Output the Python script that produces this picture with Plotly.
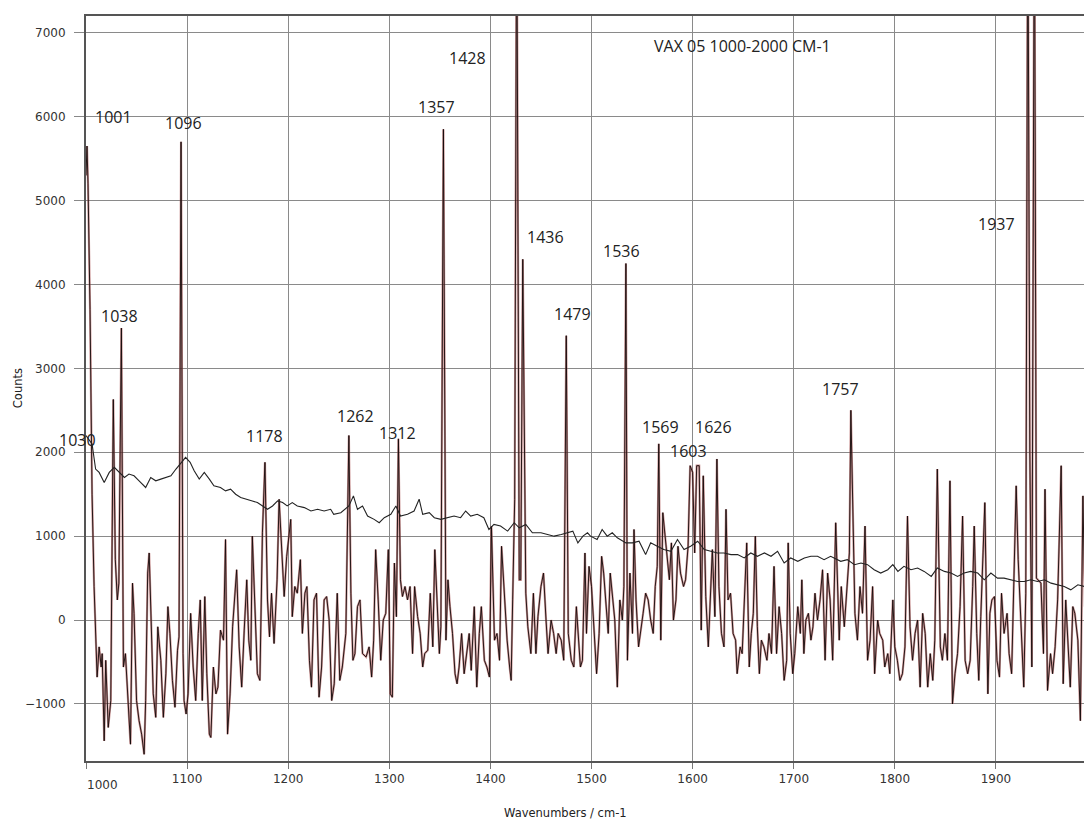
import plotly.graph_objects as go

# ---- data ----
spectrum = [
    (1000, 5300), (1001, 5650), (1002, 5200), (1004, 3700), (1006, 1500), (1008, 400),
    (1011, -680), (1013, -320), (1015, -560), (1016, -400), (1018, -1440), (1019.5, -480),
    (1022, -1280), (1024.5, -960), (1027, 2630), (1029, 720), (1031, 240), (1032.5, 440),
    (1035, 3480), (1037, -560), (1039, -400), (1041.5, -960), (1044, -1480), (1046, 440),
    (1047.5, 80), (1050, -960), (1052.5, -1200), (1055, -1360), (1057.5, -1600), (1059, -960),
    (1061, 560), (1062.5, 800), (1064, 240), (1066.5, -880), (1069, -1160), (1071, -80),
    (1074, -480), (1076.5, -1160), (1079, -640), (1081, 160), (1083, -160), (1085.5, -720),
    (1088, -1040), (1090.5, -360), (1092, -200), (1094, 5700), (1096, -400), (1097, -960),
    (1099, -1120), (1101, -880), (1103.5, 80), (1106, -560), (1108.5, -960), (1111, -160),
    (1113, 240), (1115, -960), (1117.5, 280), (1119.5, -640), (1122, -1360), (1123.5, -1400),
    (1126, -560), (1128.5, -880), (1130.5, -800), (1133, -120), (1136, -240), (1138, 960),
    (1140, -1360), (1142.5, -880), (1145, -80), (1147, 240), (1149, 600), (1151.5, -320),
    (1154, -800), (1156.5, -120), (1159, 480), (1161, -240), (1163, -480), (1164.5, 1000),
    (1167, 80), (1169.5, -640), (1172, -720), (1174.5, 1040), (1177, 1880), (1179.5, 240),
    (1181.5, -200), (1183.5, 320), (1186, -280), (1189, 480), (1191, 1440), (1193.5, 880),
    (1196, 280), (1198.5, 760), (1202.5, 1200), (1204, 40), (1206.5, 400), (1209, 320),
    (1212, 720), (1214, -160), (1216.5, 320), (1218.5, 400), (1221, -480), (1223, -800),
    (1225.5, 240), (1228, 320), (1230.5, -920), (1233, -560), (1235.5, 240), (1238, 280),
    (1240.5, 0), (1243, -960), (1245.5, -760), (1248.5, 320), (1251, -720), (1253.5, -560),
    (1257, -160), (1260, 2200), (1262, 320), (1264, -480), (1266, -400), (1268.5, 160),
    (1271, 240), (1273.5, -400), (1277, -440), (1280, -320), (1282.5, -680), (1284.5, -240),
    (1286.5, 840), (1289, 240), (1291.5, -480), (1294, 0), (1296.5, 80), (1299, 840),
    (1301, -880), (1303, -920), (1305, 680), (1307, 40), (1309, 2160), (1311, 480),
    (1313, 280), (1315.5, 400), (1318, 240), (1320.5, 400), (1323, -400), (1325, 400),
    (1328, 40), (1330.5, -160), (1333, -560), (1335, -400), (1338, -360), (1340.5, 320),
    (1343, -320), (1345, 840), (1347, 320), (1349.5, -400), (1351, -80), (1353.5, 5850),
    (1356, -240), (1358, 480), (1360, 160), (1362.5, -160), (1365, -640), (1367, -760),
    (1369, -560), (1371.5, -160), (1374, -640), (1376.5, -400), (1379, -160), (1381, -600),
    (1384, 160), (1386.5, -800), (1389, -160), (1391, 160), (1394, -480), (1396.5, -560),
    (1399, -680), (1401, 1120), (1404, -240), (1406.5, -160), (1409, -480), (1411, 880),
    (1414, 240), (1416.5, -240), (1419, -560), (1420.5, -720), (1422, 240), (1424, 1440),
    (1426, 8800), (1428.5, 480), (1430, 480), (1432, 4300), (1435, 320), (1437, -80),
    (1440, -400), (1442.5, 320), (1445, -400), (1447, 40), (1450, 400), (1452.5, 560),
    (1455, 0), (1457, -400), (1460, 0), (1462.5, -160), (1465, -400), (1467, -160),
    (1470, -240), (1472.5, -480), (1475, 3390), (1477, -160), (1480, -480), (1482.5, -560),
    (1485, 160), (1486.5, -160), (1489, -560), (1491, -480), (1493.5, 800), (1495, -160),
    (1497.5, 640), (1500, 400), (1502.5, -160), (1505, -640), (1507.5, -160), (1510, 760),
    (1512, 560), (1514, 240), (1516.5, -160), (1518.5, 560), (1520.5, 320), (1523, 0),
    (1525.5, -800), (1528, 240), (1530.5, 0), (1532, 400), (1534, 4250), (1535.5, -480),
    (1538, 560), (1540.5, -160), (1542, 1080), (1544, 240), (1546.5, -320), (1548.5, -160),
    (1551, 80), (1553.5, 320), (1556, 240), (1558.5, 0), (1561, -160), (1563, 400),
    (1565, 640), (1566.5, 2100), (1568.5, -240), (1570.5, 1280), (1572.5, 1040), (1574.5, 800),
    (1577, 480), (1579, 920), (1581, 0), (1583.5, 240), (1585.5, 880), (1588, 560),
    (1591, 400), (1593, 480), (1595.5, 880), (1597.5, 1840), (1600, 1760), (1602, 800),
    (1604, 1840), (1606.5, 1840), (1608.5, -120), (1610.5, 1720), (1613, 280), (1615.5, -320),
    (1617.5, 240), (1619.5, 840), (1622, 40), (1624, 1920), (1626, 400), (1628.5, -160),
    (1631, -320), (1633, 1320), (1635, 240), (1637.5, 320), (1640, -160), (1642.5, -240),
    (1644, -640), (1647, -320), (1649, -400), (1651.5, 240), (1653.5, 920), (1656, -560),
    (1658, -160), (1660, 80), (1662, 1000), (1664, -80), (1666, -640), (1668, -240),
    (1670.5, -320), (1673.5, -480), (1675.5, -160), (1678, -400), (1680.5, 640), (1683, -400),
    (1685.5, 160), (1688, -160), (1690.5, -720), (1693, -480), (1694.5, 920), (1696.5, -160),
    (1699, -640), (1701, -400), (1704, 160), (1706.5, -160), (1708, 480), (1710, -400),
    (1712, 0), (1714.5, 80), (1717, -240), (1719, -80), (1721, 320), (1723.5, 0),
    (1726, 240), (1728.5, 600), (1731, -480), (1733.5, 560), (1736, 240), (1738.5, -480),
    (1741.5, 1160), (1745, -240), (1747, 400), (1750, -80), (1752.5, 400), (1755, 800),
    (1756.5, 2500), (1758, 1440), (1760.5, 80), (1763, -240), (1765.5, 400), (1768, 80),
    (1770.5, 1120), (1773, -480), (1775.5, -240), (1778, 400), (1780, -640), (1783, 0),
    (1785, -160), (1788, -240), (1790, -560), (1793, -400), (1795, -640), (1798, 240),
    (1800, -320), (1802.5, -480), (1805, -720), (1807.5, -640), (1810, -320), (1812.5, 1240),
    (1815, -80), (1817.5, -480), (1820, -160), (1822.5, 0), (1825, -800), (1827.5, 80),
    (1830, -160), (1832.5, -800), (1835, -400), (1837.5, -720), (1839.5, -240), (1842, 1800),
    (1845, -320), (1847, -480), (1849.5, -160), (1852, -480), (1854.5, 1660), (1857, -1000),
    (1859.5, -640), (1862, -400), (1864.5, 160), (1867, 1240), (1869.5, -480), (1872, -640),
    (1874.5, -480), (1877, 400), (1878.5, 1120), (1881, -160), (1883, -720), (1885, 40),
    (1887, 720), (1889, 1400), (1892, -880), (1894, 80), (1896, 240), (1898.5, 280),
    (1901, -480), (1903.5, -680), (1905.5, 320), (1908, -160), (1911, 80), (1913, -400),
    (1915.5, -640), (1918, 480), (1920, 1600), (1922, 720), (1925, -160), (1927.5, -800),
    (1929.5, 320), (1931.5, 9000), (1933.5, 2000), (1935.5, -560), (1938, 9000), (1940, 500),
    (1944.5, 440), (1947, -400), (1948.5, 1560), (1951, -840), (1954, -400), (1956, -640),
    (1958.5, -320), (1961, 240), (1964.5, 1840), (1966.5, -760), (1969, 240), (1971, -160),
    (1973.5, -800), (1976, 160), (1978, 80), (1981, -240), (1983.5, -1200), (1986, 1480),
    (1988, 160), (1990, 800), (1992.5, -320), (1995, 240),
]

baseline = [
    (1000, 2200), (1006, 2100), (1009.5, 1800), (1013, 1760), (1018, 1640), (1023, 1760),
    (1028, 1820), (1033, 1760), (1038, 1700), (1042.5, 1740), (1047.5, 1720), (1052.5, 1660),
    (1059, 1580), (1064, 1700), (1069, 1660), (1074, 1680), (1079, 1700), (1084, 1720),
    (1089, 1800), (1093.5, 1860), (1098.5, 1940), (1103, 1880), (1107, 1780), (1112, 1680),
    (1117, 1760), (1122, 1680), (1126.5, 1600), (1133, 1580), (1138, 1540), (1143, 1560),
    (1148, 1500), (1153, 1460), (1159.5, 1440), (1164.5, 1420), (1169.5, 1400), (1174.5, 1360),
    (1179.5, 1320), (1184.5, 1360), (1189.5, 1420), (1194.5, 1400), (1199, 1360), (1204, 1400),
    (1209, 1360), (1216, 1340), (1222.5, 1300), (1229, 1320), (1235.5, 1300), (1242, 1320),
    (1245, 1260), (1252, 1280), (1260, 1360), (1264.5, 1480), (1268.5, 1320), (1273.5, 1360),
    (1278.5, 1240), (1285, 1200), (1290, 1160), (1295, 1220), (1301.5, 1260), (1306.5, 1360),
    (1311, 1240), (1318, 1260), (1324.5, 1300), (1329.5, 1440), (1333, 1260), (1339.5, 1280),
    (1344.5, 1220), (1351, 1200), (1357.5, 1220), (1364, 1240), (1370.5, 1220), (1375.5, 1300),
    (1380.5, 1240), (1387, 1260), (1393.5, 1220), (1398.5, 1080), (1403.5, 1140), (1410, 1120),
    (1417, 1060), (1423.5, 1160), (1428.5, 1100), (1435, 1140), (1441.5, 1040), (1450, 1040),
    (1456.5, 1020), (1463, 1000), (1470, 1020), (1476.5, 1040), (1481.5, 1060), (1486.5, 920),
    (1491.5, 1000), (1496, 1040), (1499, 1000), (1505.5, 960), (1510.5, 1080), (1515.5, 1000),
    (1520.5, 1040), (1525.5, 980), (1534, 920), (1540.5, 920), (1547, 940), (1553.5, 780),
    (1558.5, 920), (1565, 880), (1571.5, 840), (1578.5, 820), (1585, 960), (1591.5, 840),
    (1598, 880), (1605, 940), (1611.5, 840), (1618, 820), (1624.5, 800), (1631, 800),
    (1638, 780), (1644.5, 780), (1651, 740), (1657.5, 800), (1664, 760), (1671, 800),
    (1677.5, 760), (1684, 820), (1690.5, 680), (1697, 740), (1704, 700), (1710.5, 740),
    (1717, 760), (1723.5, 760), (1730, 720), (1736.5, 760), (1741, 730), (1746.5, 700),
    (1753, 720), (1760, 660), (1766.5, 680), (1773, 660), (1779.5, 600), (1786, 560),
    (1793, 600), (1798, 660), (1803, 580), (1809, 640), (1816, 600), (1822.5, 620),
    (1829, 580), (1836, 520), (1842, 620), (1849, 580), (1855.5, 560), (1862, 520),
    (1868.5, 560), (1875, 580), (1882, 560), (1888.5, 480), (1895, 560), (1901.5, 500),
    (1908, 500), (1915, 480), (1921.5, 460), (1928, 460), (1934.5, 480), (1941, 460),
    (1948, 480), (1954.5, 440), (1961, 420), (1967.5, 400), (1974, 360), (1981, 420),
    (1987.5, 400), (1995, 380),
]

spec_x = [p[0] for p in spectrum]
spec_y = [p[1] for p in spectrum]
base_x = [p[0] for p in baseline]
base_y = [p[1] for p in baseline]

peak_labels = ["1001", "1096", "1038", "1178", "1262", "1312", "1357", "1428",
               "1436", "1479", "1536", "1569", "1603", "1626", "1757", "1937"]
edge_label = "1030"
x_ticks = [1000, 1100, 1200, 1300, 1400, 1500, 1600, 1700, 1800, 1900]
y_ticks = [-1000, 0, 1000, 2000, 3000, 4000, 5000, 6000, 7000]
title_text = "VAX 05 1000-2000 CM-1"

# ---- figure ----
fig = go.Figure()
fig.add_trace(go.Scatter(x=spec_x, y=spec_y, mode="lines",
                         line=dict(color="rgba(170,80,80,0.6)", width=2.2),
                         hoverinfo="skip", showlegend=False))
fig.add_trace(go.Scatter(x=spec_x, y=spec_y, mode="lines",
                         line=dict(color="rgba(20,10,10,0.9)", width=1),
                         showlegend=False))
fig.add_trace(go.Scatter(x=base_x, y=base_y, mode="lines",
                         line=dict(color="#222", width=1.1),
                         showlegend=False))

label_font = dict(family="Open Sans", size=16, color="#222")
label_pos = [(1027, 6000), (1096, 5930), (1033, 3630), (1177, 2190),
             (1267, 2430), (1308, 2225), (1347, 6120), (1377, 6700), (1454, 4560),
             (1481, 3650), (1530, 4400), (1568, 2300), (1596, 2010), (1621, 2300),
             (1746, 2760), (1901, 4720)]
annots = []
for txt, (ax_, ay_) in zip(peak_labels, label_pos):
    annots.append(dict(x=ax_, y=ay_, xref="x", yref="y", text=txt, showarrow=False,
                       font=label_font))
annots.append(dict(x=-0.008, y=2150, xref="paper", yref="y", text=edge_label,
                   showarrow=False, xanchor="center", font=label_font))
annots.append(dict(x=1649, y=6840, xref="x", yref="y", text=title_text, showarrow=False,
                   font=dict(family="Open Sans", size=16, color="#222")))
annots.append(dict(x=1474, y=-0.07, xref="x", yref="paper", text="Wavenumbers / cm-1",
                   showarrow=False, yanchor="middle", xanchor="center",
                   font=dict(family="DejaVu Sans", size=11.5, color="#222")))
annots.append(dict(x=1016, y=-0.032, xref="x", yref="paper", text="1000",
                   showarrow=False, yanchor="middle", xanchor="center",
                   font=dict(family="DejaVu Sans", size=12, color="#333")))
annots.append(dict(x=-0.068, y=0.5, xref="paper", yref="paper", text="Counts",
                   showarrow=False, textangle=-90, xanchor="center",
                   font=dict(family="DejaVu Sans", size=11.5, color="#222")))

tick_font = dict(family="DejaVu Sans", size=12, color="#333")

# the page body adds an 8 px margin, so the figure is 8 px smaller on each side
fig.update_layout(
    width=1084, height=824,
    margin=dict(l=78, r=1, t=8, b=71),
    paper_bgcolor="white", plot_bgcolor="white",
    annotations=annots,
    xaxis=dict(range=[1000, 1994], tickvals=x_ticks,
               ticktext=[""] + [str(v) for v in x_ticks[1:]],
               automargin=False,
               showgrid=True, gridcolor="#8a8a8a", gridwidth=1,
               ticks="outside", ticklen=6, tickcolor="#777",
               showline=True, linecolor="#555", linewidth=2, mirror=True,
               tickfont=tick_font, zeroline=False),
    yaxis=dict(range=[-1680, 7200], tickvals=y_ticks,
               automargin=False,
               showgrid=True, gridcolor="#8a8a8a", gridwidth=1,
               ticks="outside", ticklen=10, tickcolor="#888",
               showline=True, linecolor="#555", linewidth=2, mirror=True,
               tickfont=tick_font, ticklabelstandoff=6, zeroline=False),
)

fig.write_html("out.html")
